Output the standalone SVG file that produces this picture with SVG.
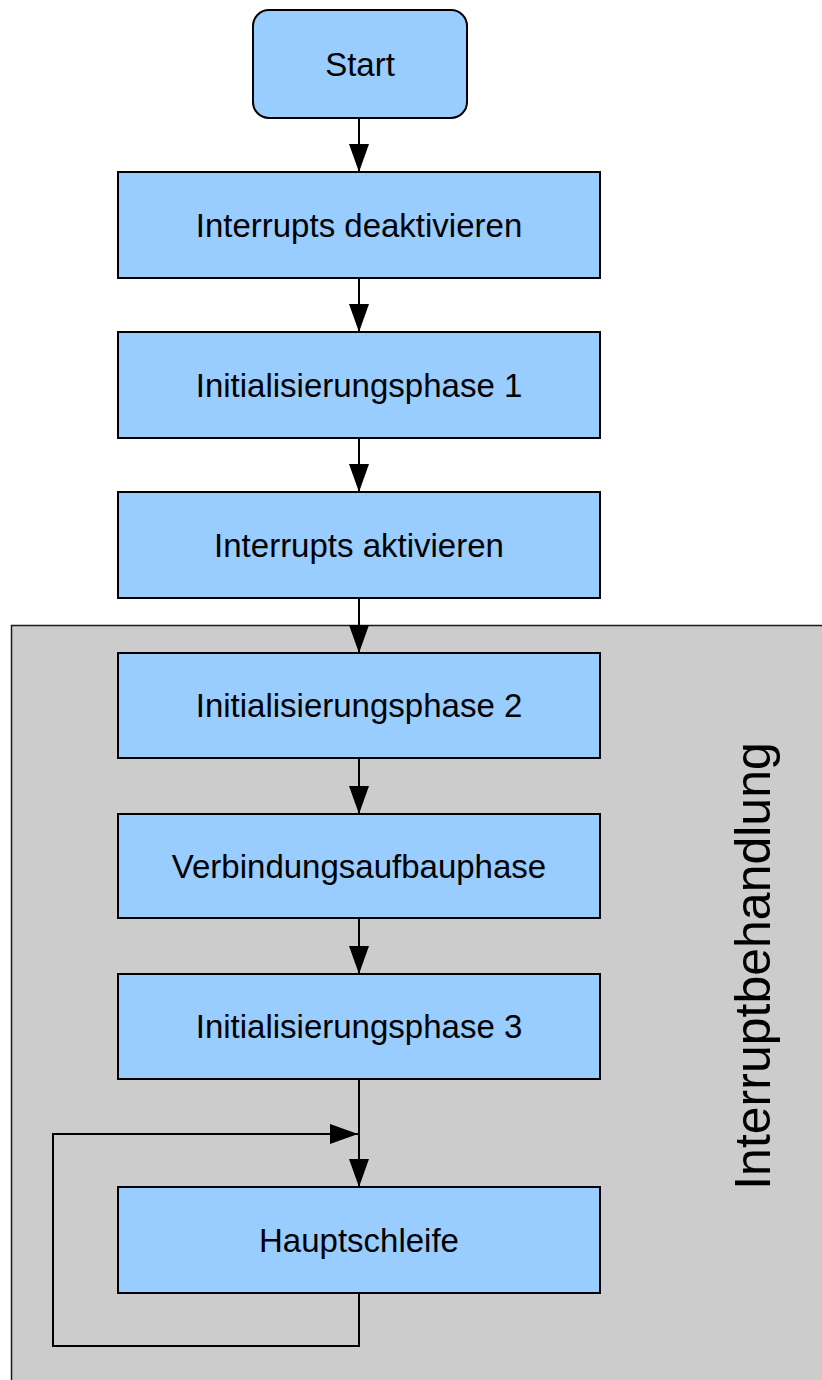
<svg xmlns="http://www.w3.org/2000/svg" width="822" height="1380" viewBox="0 0 822 1380">
<style>
.box{fill:#99ccff;stroke:#000;stroke-width:2}
.lbl{font-family:"Liberation Sans",Arial,sans-serif;font-size:33px;fill:#000;text-anchor:middle}
.con{fill:none;stroke:#000;stroke-width:2}
</style>
<defs>
<marker id="ah" markerUnits="userSpaceOnUse" markerWidth="30" markerHeight="22" refX="28" refY="10" orient="auto">
<path d="M0,0 L28,10 L0,20 Z" fill="#000"/>
</marker>
</defs>
<rect id="region" x="11.5" y="625.5" width="820" height="770" fill="#cccccc" stroke="#1a1a1a" stroke-width="1.5"/>
<g id="connectors">
<line class="con" x1="359" y1="118" x2="359" y2="172" marker-end="url(#ah)"/>
<line class="con" x1="359" y1="278" x2="359" y2="332" marker-end="url(#ah)"/>
<line class="con" x1="359" y1="438" x2="359" y2="492" marker-end="url(#ah)"/>
<line class="con" x1="359" y1="598" x2="359" y2="653" marker-end="url(#ah)"/>
<line class="con" x1="359" y1="758" x2="359" y2="814" marker-end="url(#ah)"/>
<line class="con" x1="359" y1="918" x2="359" y2="974" marker-end="url(#ah)"/>
<line class="con" x1="359" y1="1079" x2="359" y2="1187" marker-end="url(#ah)"/>
<polyline class="con" points="359,1293 359,1346 53,1346 53,1134 358,1134" marker-end="url(#ah)"/>
</g>
<g id="start"><rect class="box" x="253" y="10" width="214" height="108" rx="16" ry="16"/><text class="lbl" x="360" y="76">Start</text></g>
<g id="n1"><rect class="box" x="118" y="172" width="482" height="106"/><text class="lbl" x="359" y="237">Interrupts deaktivieren</text></g>
<g id="n2"><rect class="box" x="118" y="332" width="482" height="106"/><text class="lbl" x="359" y="397">Initialisierungsphase 1</text></g>
<g id="n3"><rect class="box" x="118" y="492" width="482" height="106"/><text class="lbl" x="359" y="557">Interrupts aktivieren</text></g>
<g id="n4"><rect class="box" x="118" y="653" width="482" height="105"/><text class="lbl" x="359" y="717">Initialisierungsphase 2</text></g>
<g id="n5"><rect class="box" x="118" y="814" width="482" height="104"/><text class="lbl" x="359" y="878">Verbindungsaufbauphase</text></g>
<g id="n6"><rect class="box" x="118" y="974" width="482" height="105"/><text class="lbl" x="359" y="1038">Initialisierungsphase 3</text></g>
<g id="n7"><rect class="box" x="118" y="1187" width="482" height="106"/><text class="lbl" x="359" y="1252">Hauptschleife</text></g>
<g id="label"><text x="770" y="966" transform="rotate(-90 770 966)" font-family="Liberation Sans,Arial,sans-serif" font-size="50" text-anchor="middle" fill="#000">Interruptbehandlung</text></g>
</svg>
